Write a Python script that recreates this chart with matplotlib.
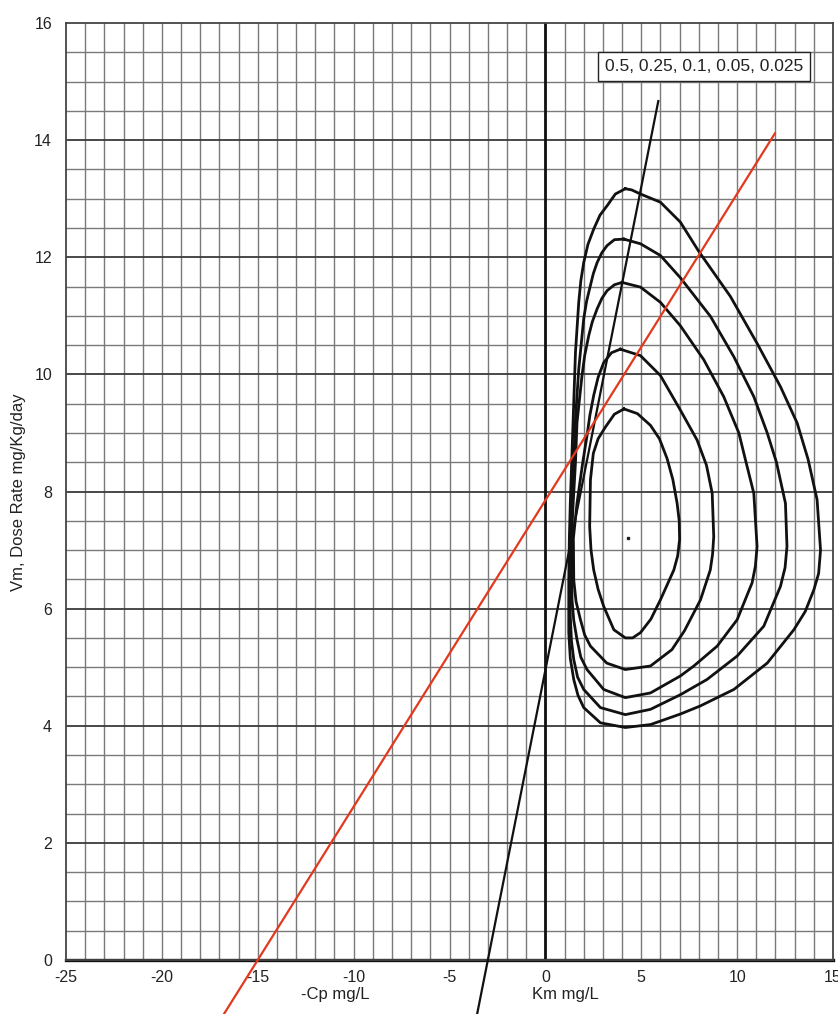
import matplotlib
matplotlib.use("Agg")
import matplotlib.pyplot as plt
import numpy as np

plt.rcParams['font.family'] = ['Liberation Sans', 'DejaVu Sans']

# ---------------- data ----------------
levels_label = "0.5, 0.25, 0.1, 0.05, 0.025"

# direct linear plot lines: intercept on -Cp axis and on dose axis
line_cp = [3.0, 15.0]          # -Cp intercept (mg/L)
line_dose = [4.95, 7.85]       # dose rate intercept (mg/Kg/day)
line_x_end = [5.9, 12.0]       # x where each line ends at top
line_y_start = -0.95
line_colors = ['#111111', '#e2391e']

center = (4.3, 7.2)

c05_x = [4.1, 4.8, 5.48, 5.95, 6.35, 6.65, 6.87, 6.98, 7.0, 6.9, 6.7, 6.0, 5.5, 4.96, 4.55, 4.17, 3.57,
         3.04, 2.75, 2.52, 2.38, 2.31, 2.35, 2.5, 2.75, 3.13, 3.6]
c05_y = [9.41, 9.33, 9.13, 8.9, 8.56, 8.2, 7.8, 7.5, 7.18, 6.9, 6.66, 6.15, 5.82, 5.59, 5.5, 5.5, 5.64,
         6.04, 6.33, 6.66, 7.0, 7.4, 8.2, 8.65, 8.9, 9.1, 9.32]

c025_x = [3.91, 4.96, 6.0, 7.04, 7.91, 8.4, 8.7, 8.78, 8.72, 8.6, 8.09, 7.25, 6.6, 5.48, 4.17, 3.2, 2.35,
          2.05, 1.83, 1.6, 1.48, 1.46, 1.65, 1.95, 2.17, 2.32, 2.52, 2.75, 3.04, 3.45]
c025_y = [10.43, 10.32, 9.98, 9.39, 8.88, 8.45, 7.97, 7.23, 6.93, 6.66, 6.15, 5.62, 5.3, 5.02, 4.96, 5.07,
          5.36, 5.55, 5.81, 6.12, 6.49, 7.2, 7.8, 8.5, 8.95, 9.3, 9.64, 9.95, 10.2, 10.37]

c01_x = [4.0, 4.96, 6.0, 7.04, 8.26, 9.3, 10.09, 10.45, 10.87, 11.04, 10.95, 10.78, 10.0, 8.96, 7.74,
         7.04, 5.48, 4.17, 3.04, 2.17, 1.85, 1.65, 1.48, 1.39, 1.36, 1.45, 1.57, 1.65, 1.91, 2.05, 2.26,
         2.45, 2.7, 2.95, 3.22, 3.6]
c01_y = [11.57, 11.49, 11.23, 10.83, 10.25, 9.62, 9.0, 8.52, 7.97, 7.06, 6.72, 6.44, 5.81, 5.36, 5.02,
         4.85, 4.56, 4.48, 4.62, 4.96, 5.17, 5.47, 5.8, 6.15, 7.2, 7.8, 8.5, 9.18, 9.98, 10.32, 10.66,
         10.9, 11.12, 11.3, 11.43, 11.53]

c005_x = [4.09, 4.96, 6.0, 7.04, 8.61, 9.83, 10.87, 11.57, 12.05, 12.52, 12.6, 12.5, 12.26, 11.39, 10.0,
          8.43, 7.04, 5.48, 4.17, 2.87, 2.0, 1.68, 1.48, 1.36, 1.3, 1.28, 1.38, 1.48, 1.57, 1.74, 2.0,
          2.15, 2.35, 2.5, 2.7, 2.95, 3.22, 3.6]
c005_y = [12.31, 12.23, 12.03, 11.65, 10.99, 10.3, 9.62, 9.0, 8.5, 7.8, 7.06, 6.7, 6.38, 5.7, 5.19,
          4.79, 4.53, 4.28, 4.19, 4.31, 4.62, 4.83, 5.13, 5.45, 5.87, 7.2, 7.8, 8.5, 9.24, 10.09, 10.95,
          11.25, 11.52, 11.72, 11.91, 12.08, 12.2, 12.3]

c0025_x = [4.17, 4.5, 4.96, 6.0, 7.04, 8.0, 9.65, 11.04, 12.26, 13.13, 13.7, 14.17, 14.35, 14.25, 14.0,
           13.55, 12.96, 11.57, 9.83, 8.09, 7.04, 5.48, 4.17, 2.87, 2.0, 1.7, 1.48, 1.3, 1.22, 1.22,
           1.25, 1.3, 1.39, 1.48, 1.57, 1.74, 1.85, 2.0, 2.22, 2.52, 2.85, 3.22, 3.65]
c0025_y = [13.17, 13.15, 13.08, 12.94, 12.6, 12.1, 11.33, 10.53, 9.79, 9.17, 8.55, 7.86, 7.0, 6.6, 6.32,
           5.95, 5.64, 5.07, 4.62, 4.34, 4.2, 4.02, 3.97, 4.05, 4.31, 4.52, 4.79, 5.15, 5.59, 6.5,
           7.2, 7.8, 8.67, 9.52, 10.38, 11.23, 11.6, 11.91, 12.22, 12.48, 12.72, 12.88, 13.08]

contours = [(c05_x, c05_y), (c025_x, c025_y), (c01_x, c01_y), (c005_x, c005_y), (c0025_x, c0025_y)]

x_ticks = [-25, -20, -15, -10, -5, 0, 5, 10, 15]
y_ticks = [0, 2, 4, 6, 8, 10, 12, 14, 16]

# ---------------- figure ----------------
W, H = 838, 1014
fig = plt.figure(figsize=(W / 100, H / 100), dpi=100)
ax = fig.add_axes([66 / W, 1 - 960 / H, (833 - 66) / W, (960 - 23) / H])
ax.set_xlim(-25, 15)
ax.set_ylim(0, 16)

# graph-paper grid
for xv in np.arange(-24, 15, 1):
    ax.axvline(xv, color='#7a7a7a', lw=1.0, zorder=1)
for yv in np.arange(0.5, 16, 0.5):
    if abs(yv % 2) < 1e-9:
        ax.axhline(yv, color='#3a3a3a', lw=1.3, zorder=1)
    else:
        ax.axhline(yv, color='#7a7a7a', lw=1.0, zorder=1)

ax.axvline(0, color='#111111', lw=2.0, zorder=2)
ax.axhline(0, color='#111111', lw=2.4, zorder=2, clip_on=False)

for s in ax.spines.values():
    s.set_color('#444444')
    s.set_linewidth(1.3)

# direct linear lines
for cp, d, xe, col in zip(line_cp, line_dose, line_x_end, line_colors):
    xs = cp * (line_y_start / d - 1)
    ax.plot([xs, xe], [d * (1 + xs / cp), d * (1 + xe / cp)], color=col, lw=1.6,
            zorder=4, clip_on=False, solid_capstyle='butt')

# confidence contours
for cx, cy in contours:
    ax.plot(list(cx) + [cx[0]], list(cy) + [cy[0]], color='#111111', lw=2.0,
            zorder=3, solid_joinstyle='round')

ax.plot([center[0]], [center[1]], marker='s', ms=1.5, color='#222222', zorder=3)

# legend box
ax.text(8.27, 15.25, levels_label, ha='center', va='center', fontsize=12.5, color='#222222',
        zorder=6, bbox=dict(boxstyle='square,pad=0.4', fc='white', ec='#222222', lw=1.0))

ax.set_xticks(x_ticks)
ax.set_yticks(y_ticks)
ax.set_xticklabels([str(v) for v in x_ticks])
ax.set_yticklabels([str(v) for v in y_ticks])
ax.tick_params(axis='both', length=0, labelsize=11.5, colors='#222222')
ax.tick_params(axis='x', pad=7)
ax.tick_params(axis='y', pad=10)

fig.text(19 / W, 1 - 492 / H, "Vm, Dose Rate mg/Kg/day", rotation=90, ha='center', va='center',
         fontsize=12, color='#222222')
fig.text(335 / W, 1 - 995 / H, "-Cp mg/L", ha='center', va='center', fontsize=12, color='#222222')
fig.text(565 / W, 1 - 995 / H, "Km mg/L", ha='center', va='center', fontsize=12, color='#222222')

fig.savefig("out.png", dpi=100)
